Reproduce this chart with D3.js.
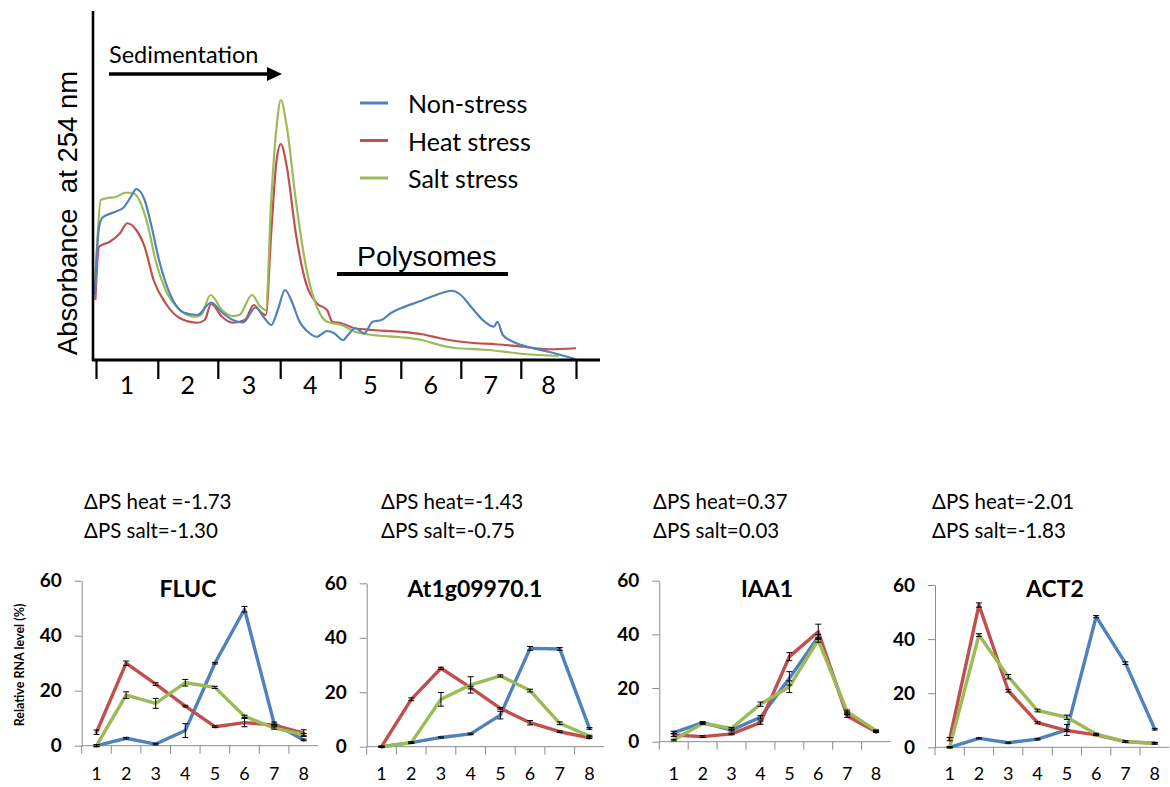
<!DOCTYPE html>
<html lang="en">
<head>
<meta charset="utf-8">
<style>
    body { margin: 0; background: #fff; }
    svg { display: block; }
    .calib { font-family: Lato, "Open Sans", sans-serif; }
    .arial { font-family: "Liberation Sans", Arial, sans-serif; }
    .rna { fill: none; stroke-width: 3.4; stroke-linejoin: round; stroke-linecap: round; }
    .prof { fill: none; stroke-width: 2.2; stroke-linejoin: round; }
    .panelAxis path, .panelAxis line { stroke: #8c8c8c; }
</style>
<script src="https://cdn.jsdelivr.net/npm/d3@7"></script>
</head>
<body>
<svg id="chart" width="1170" height="787"></svg>
<script>
// ---- gradient profile (top) ----
var fractions = ["1", "2", "3", "4", "5", "6", "7", "8"];
var fractionEdges = [0, 1.03, 2.03, 3.07, 4.07, 5.08, 6.08, 7.08, 8];

// [position in fraction units, A254 (a.u.)]
var profileNonStress = [[-0.02,0.26],[0.02,0.45],[0.05,0.53],[0.11,0.57],[0.29,0.59],[0.46,0.61],[0.60,0.66],[0.67,0.684],
    [0.81,0.64],[0.93,0.53],[1.05,0.40],[1.16,0.31],[1.28,0.24],[1.46,0.19],[1.69,0.18],[1.92,0.23],[2.10,0.19],
    [2.28,0.16],[2.45,0.15],[2.66,0.21],[2.80,0.17],[2.92,0.14],[3.03,0.20],[3.15,0.28],[3.27,0.23],[3.38,0.16],
    [3.56,0.107],[3.68,0.093],[3.85,0.116],[3.97,0.107],[4.12,0.08],[4.20,0.10],[4.32,0.127],[4.47,0.107],[4.61,0.153],
    [4.76,0.16],[4.91,0.187],[5.08,0.207],[5.37,0.233],[5.67,0.26],[5.93,0.277],[6.08,0.26],[6.25,0.213],[6.48,0.153],
    [6.63,0.133],[6.69,0.153],[6.78,0.10],[6.95,0.073],[7.19,0.053],[7.54,0.033],[8.0,0.003]];
var profileHeat = [[-0.01,0.24],[0.05,0.453],[0.23,0.473],[0.40,0.507],[0.52,0.547],[0.67,0.52],[0.81,0.453],[0.96,0.32],
    [1.16,0.227],[1.40,0.167],[1.69,0.149],[1.81,0.16],[1.92,0.224],[2.10,0.173],[2.28,0.149],[2.48,0.16],[2.63,0.22],
    [2.74,0.193],[2.83,0.18],[2.92,0.507],[3.01,0.80],[3.08,0.864],[3.18,0.773],[3.33,0.507],[3.50,0.307],[3.68,0.227],
    [3.85,0.20],[3.94,0.153],[4.09,0.147],[4.32,0.127],[4.61,0.12],[5.08,0.113],[5.43,0.103],[5.73,0.087],[5.96,0.077],
    [6.25,0.069],[6.66,0.063],[7.13,0.053],[7.54,0.043],[8.0,0.047]];
var profileSalt = [[-0.02,0.267],[0.08,0.64],[0.17,0.647],[0.34,0.653],[0.49,0.669],[0.61,0.669],[0.72,0.64],[0.87,0.533],
    [0.99,0.40],[1.16,0.28],[1.40,0.20],[1.63,0.173],[1.75,0.18],[1.91,0.26],[2.10,0.20],[2.28,0.176],[2.39,0.18],
    [2.60,0.26],[2.74,0.213],[2.83,0.20],[2.92,0.64],[3.01,0.933],[3.08,1.04],[3.18,0.933],[3.33,0.64],[3.50,0.373],
    [3.68,0.213],[3.85,0.153],[4.09,0.14],[4.32,0.113],[4.61,0.10],[5.08,0.091],[5.43,0.08],[5.73,0.06],[5.96,0.049],
    [6.54,0.04],[7.13,0.024],[7.71,0.016]];

var conditions = ["Non-stress", "Heat stress", "Salt stress"];
var colors = ["#4f81bd", "#c0504d", "#9bbb59"];

// ---- RNA distribution panels (bottom) ----
var genes = ["FLUC", "At1g09970.1", "IAA1", "ACT2"];
var dpsLabels = [["ΔPS heat =-1.73", "ΔPS salt=-1.30"], ["ΔPS heat=-1.43", "ΔPS salt=-0.75"],
                 ["ΔPS heat=0.37", "ΔPS salt=0.03"], ["ΔPS heat=-2.01", "ΔPS salt=-1.83"]];
var rnaTicks = [0, 20, 40, 60];

var nonStressRNA = [[0, 2.7, 0.6, 5.5, 30, 49.6, 8.1, 2.1],
                    [0, 1.5, 3.4, 4.7, 11.6, 36.1, 35.9, 6.7],
                    [3.4, 7.1, 4.3, 9.1, 23.6, 39.1, 10.6, 3.7],
                    [0, 3.3, 1.7, 3.0, 6.4, 48.3, 31.1, 6.7]];
var heatRNA = [[4.9, 30, 22.4, 14.4, 6.9, 8.4, 7.5, 4.6],
               [0, 17.4, 28.8, 21.7, 14.1, 8.8, 5.5, 3.3],
               [2.5, 1.9, 2.9, 7.1, 31.7, 41, 9.6, 3.7],
               [3.0, 52.6, 20.9, 9.1, 6.2, 4.6, 2.1, 1.5]];
var saltRNA = [[0, 18.4, 15.4, 22.9, 21.2, 10.7, 6.4, 4.0],
               [0, 1.5, 17.4, 22.7, 26, 20.6, 8.6, 3.9],
               [0.6, 6.8, 5.0, 14, 20.5, 37.9, 11.2, 4.1],
               [0, 41.5, 26.1, 13.6, 11.1, 4.9, 2.1, 1.5]];
var nonStressErr = [[0.4, 0.3, 0.3, 2.5, 0.3, 1.0, 0.5, 0.3],
                    [0.2, 0.2, 0.2, 0.3, 1.4, 0.7, 0.5, 0.3],
                    [0.5, 0.4, 0.3, 0.6, 2.5, 0.8, 0.5, 0.3],
                    [0.2, 0.2, 0.2, 0.3, 2.0, 0.4, 0.5, 0.3]];
var heatErr = [[0.8, 0.8, 0.5, 0.3, 0.3, 1.5, 0.3, 1.2],
               [0.2, 0.5, 0.4, 0.5, 0.3, 0.8, 0.3, 0.3],
               [0.6, 0.3, 0.3, 0.6, 1.5, 2.8, 0.5, 0.3],
               [0.6, 0.8, 0.5, 0.4, 0.3, 0.3, 0.3, 0.3]];
var saltErr = [[0.3, 1.2, 1.8, 1.2, 0.4, 0.4, 0.4, 0.4],
               [0.2, 0.3, 2.5, 3.0, 0.4, 0.5, 0.5, 0.3],
               [0.3, 0.3, 0.3, 0.8, 2.2, 0.8, 0.6, 0.3],
               [0.2, 0.5, 0.8, 0.5, 0.8, 0.3, 0.3, 0.3]];

var svg = d3.select("#chart");
svg.append("rect").attr("width", 1170).attr("height", 787).attr("fill", "#fff");

// ================= top profile =================
var xProf = d3.scaleLinear().domain([0, 8]).range([96, 576]),
    yProf = d3.scaleLinear().domain([0, 1.4]).range([360, 10]);

var topG = svg.append("g");

var profLine = d3.line()
    .x(function(d) { return xProf(d[0]); })
    .y(function(d) { return yProf(d[1]); })
    .curve(d3.curveMonotoneX);

var profiles = [profileHeat, profileSalt, profileNonStress];
var profColors = [colors[1], colors[2], colors[0]];
topG.selectAll(".prof")
    .data(profiles)
    .enter().append("path")
    .attr("class", "prof")
    .attr("stroke", function(d, i) { return profColors[i]; })
    .attr("d", profLine);

// axes
topG.append("line").attr("x1", 93).attr("x2", 93).attr("y1", 11).attr("y2", 361)
    .attr("stroke", "#000").attr("stroke-width", 2.6);
topG.append("line").attr("x1", 92).attr("x2", 600).attr("y1", 360).attr("y2", 360)
    .attr("stroke", "#000").attr("stroke-width", 2.8);

topG.append("g")
    .attr("transform", "translate(0,360)")
    .call(d3.axisBottom(xProf).tickValues(fractionEdges).tickSize(19).tickFormat(""))
    .call(function(g) {
        g.select(".domain").remove();
        g.selectAll("line").attr("stroke", "#000").attr("stroke-width", 2.2);
    });

topG.selectAll(".fracLabel")
    .data(fractions)
    .enter().append("text")
    .attr("class", "calib")
    .attr("x", function(d, i) { return xProf((fractionEdges[i] + fractionEdges[i + 1]) / 2); })
    .attr("y", 384)
    .attr("text-anchor", "middle")
    .attr("dominant-baseline", "central")
    .attr("font-size", 25)
    .text(function(d) { return d; });

topG.append("text")
    .attr("class", "arial")
    .attr("transform", "translate(67,213) rotate(-90)")
    .attr("text-anchor", "middle")
    .attr("dominant-baseline", "central")
    .attr("font-size", 27.5)
    .style("white-space", "pre")
    .text("Absorbance  at 254 nm");

// sedimentation arrow
topG.append("text").attr("class", "calib")
    .attr("x", 109).attr("y", 63).attr("font-size", 23.5)
    .text("Sedimentation");
topG.append("line").attr("x1", 109).attr("x2", 270).attr("y1", 74).attr("y2", 74)
    .attr("stroke", "#000").attr("stroke-width", 3.6);
topG.append("path").attr("d", "M267,67 L282,74 L267,81 Z").attr("fill", "#000");

// polysomes
topG.append("text").attr("class", "arial")
    .attr("x", 357).attr("y", 266).attr("font-size", 28.5)
    .text("Polysomes");
topG.append("rect").attr("x", 337).attr("y", 272).attr("width", 171).attr("height", 4).attr("fill", "#000");

// legend
var legend = topG.selectAll(".leg")
    .data(conditions)
    .enter().append("g")
    .attr("transform", function(d, i) { return "translate(360," + (103 + i * 37.5) + ")"; });
legend.append("line").attr("x1", 0).attr("x2", 28)
    .attr("stroke", function(d, i) { return colors[i]; }).attr("stroke-width", 3);
legend.append("text").attr("class", "calib")
    .attr("x", 48).attr("dominant-baseline", "central").attr("font-size", 25)
    .text(function(d) { return d; });

// ================= bottom panels =================
var panelLayout = [
    { axisX: 81.7, y0: 745.7, y60: 580.7, bw: 29.6, titleX: 188, textX: 84 },
    { axisX: 366.7, y0: 746.7, y60: 583.3, bw: 29.7, titleX: 475, textX: 381 },
    { axisX: 659.3, y0: 741.7, y60: 580.7, bw: 28.9, titleX: 767, textX: 653 },
    { axisX: 935, y0: 747.3, y60: 585, bw: 29.3, titleX: 1055, textX: 932 }
];

genes.forEach(function(gene, p) {
    var L = panelLayout[p];
    var g = svg.append("g");

    var x = d3.scaleBand().domain(fractions).range([L.axisX, L.axisX + 8 * L.bw]).padding(0),
        y = d3.scaleLinear().domain([0, 60]).range([L.y0, L.y60]);

    // ΔPS text
    g.selectAll(".dps")
        .data(dpsLabels[p])
        .enter().append("text")
        .attr("class", "calib")
        .attr("x", L.textX)
        .attr("y", function(d, i) { return 509 + i * 29; })
        .attr("font-size", 20.5)
        .text(function(d) { return d; });

    // y axis
    g.append("g")
        .attr("class", "panelAxis")
        .attr("transform", "translate(" + L.axisX + ",0)")
        .call(d3.axisLeft(y).tickValues(rnaTicks).tickSize(7).tickSizeOuter(0).tickPadding(13))
        .call(function(a) {
            a.selectAll("text").attr("class", "calib").attr("font-size", 19)
                .attr("font-weight", "bold").attr("fill", "#000");
        });

    // x axis baseline, boundary ticks and labels
    g.append("line").attr("x1", L.axisX).attr("x2", L.axisX + 8 * L.bw)
        .attr("y1", L.y0).attr("y2", L.y0).attr("stroke", "#8c8c8c");
    g.selectAll(".xt")
        .data(fractions)
        .enter().append("line")
        .attr("x1", function(d) { return x(d); }).attr("x2", function(d) { return x(d); })
        .attr("y1", L.y0).attr("y2", L.y0 + 8).attr("stroke", "#8c8c8c");
    g.append("g")
        .attr("transform", "translate(0,774)")
        .call(d3.axisBottom(x).tickSize(0).tickPadding(0))
        .call(function(a) {
            a.select(".domain").remove();
            a.selectAll("text").attr("class", "calib").attr("font-size", 18)
                .attr("fill", "#000").attr("dy", "0.32em");
        });

    // title
    g.append("text").attr("class", "calib")
        .attr("x", L.titleX).attr("y", 597)
        .attr("text-anchor", "middle").attr("font-size", 23).attr("font-weight", "bold")
        .text(gene);

    var series = [nonStressRNA[p], heatRNA[p], saltRNA[p]];
    var errs = [nonStressErr[p], heatErr[p], saltErr[p]];

    var line = d3.line()
        .x(function(d, i) { return x(fractions[i]) + x.bandwidth() / 2; })
        .y(function(d) { return y(d); });

    g.selectAll(".rna")
        .data(series)
        .enter().append("path")
        .attr("class", "rna")
        .attr("stroke", function(d, i) { return colors[i]; })
        .attr("d", line);

    // error bars
    series.forEach(function(vals, s) {
        var eb = g.selectAll(".eb" + s)
            .data(vals)
            .enter().append("g")
            .attr("transform", function(d, i) { return "translate(" + (x(fractions[i]) + x.bandwidth() / 2) + ",0)"; });
        eb.append("line")
            .attr("y1", function(d, i) { return y(d - errs[s][i]); })
            .attr("y2", function(d, i) { return y(d + errs[s][i]); })
            .attr("stroke", "#000").attr("stroke-width", 1);
        eb.append("line").attr("x1", -3).attr("x2", 3)
            .attr("y1", function(d, i) { return y(d + errs[s][i]); })
            .attr("y2", function(d, i) { return y(d + errs[s][i]); })
            .attr("stroke", "#000").attr("stroke-width", 1);
        eb.append("line").attr("x1", -3).attr("x2", 3)
            .attr("y1", function(d, i) { return y(d - errs[s][i]); })
            .attr("y2", function(d, i) { return y(d - errs[s][i]); })
            .attr("stroke", "#000").attr("stroke-width", 1);
    });

    if (p === 0) {
        g.append("text").attr("class", "calib")
            .attr("transform", "translate(19,665) rotate(-90)")
            .attr("text-anchor", "middle").attr("dominant-baseline", "central")
            .attr("font-size", 12.5).attr("font-weight", "bold")
            .text("Relative RNA level (%)");
    }
});
</script>
</body>
</html>
